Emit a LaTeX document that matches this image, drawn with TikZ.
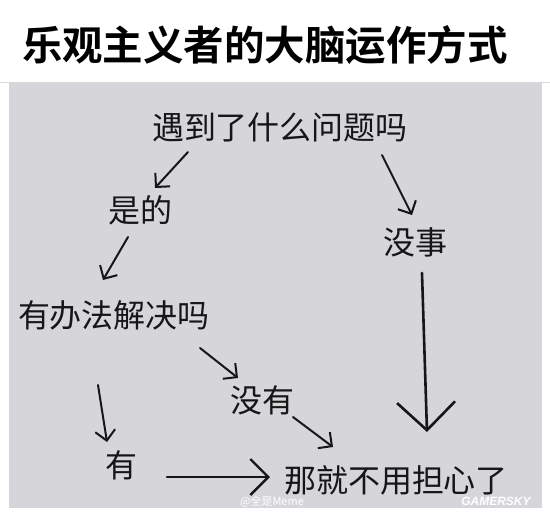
\documentclass[tikz,border=0pt]{standalone}
\usepackage{fontspec}
\newfontfamily\cjk{Noto Sans CJK SC}
\newfontfamily\cjkb{Noto Sans CJK SC Bold}
\newfontfamily\gsfont{Liberation Sans}
\usetikzlibrary{arrows.meta}
\definecolor{panel}{RGB}{214,214,218}
\definecolor{ink}{RGB}{22,22,22}
\tikzset{
  lbl/.style={font=\cjk\fontsize{32}{32}\selectfont, text=ink, inner sep=0pt, anchor=center},
  arr/.style={draw=ink, line width=2pt, line cap=round, -{Straight Barb[length=10pt,width=20pt,line width=2pt]}},
  bigarr/.style={draw=ink, line width=2.6pt, line cap=round, -{Straight Barb[length=28pt,width=58pt,line width=2.6pt]}},
  midarr/.style={draw=ink, line width=2.4pt, line cap=round, -{Straight Barb[length=18pt,width=36pt,line width=2.4pt]}},
  wm/.style={font=\cjk\fontsize{11}{11}\selectfont, text=white, inner sep=0pt}
}
\begin{document}
\begin{tikzpicture}[x=1pt,y=-1pt]
\useasboundingbox (0,0) rectangle (550,514);
\fill[white] (0,0) rectangle (550,514);
\fill[panel] (9,83) rectangle (542,508);
\draw[gray!30, line width=0.6pt] (0,82.5) -- (550,82.5);
\node[font=\cjkb\fontsize{40.5}{40.5}\selectfont, text=black, inner sep=0pt] (title) at (265,45) {乐观主义者的大脑运作方式};
\node[lbl] (q) at (280,127) {遇到了什么问题吗};
\node[lbl] (yes) at (140,210) {是的};
\node[lbl] (ok) at (415,242) {没事};
\node[lbl] (solve) at (114,315) {有办法解决吗};
\node[lbl] (no) at (262,400) {没有};
\node[lbl] (have) at (121,465) {有};
\node[lbl] (end) at (396,480) {那就不用担心了};
\node[wm] (wb) at (272,501.5) {@全是Meme};
\node[font=\gsfont\bfseries\itshape\fontsize{12}{12}\selectfont, text=white, inner sep=0pt] (gs) at (496,501.5) {GAMERSKY};
\coordinate (a1s) at (188,152); \coordinate (a1e) at (155,188);
\coordinate (a2s) at (128,237); \coordinate (a2e) at (103,280);
\coordinate (a3s) at (382,155); \coordinate (a3e) at (412,215);
\coordinate (a4s) at (422,273); \coordinate (a4e) at (427,432);
\coordinate (a5s) at (200,348); \coordinate (a5e) at (238,378);
\coordinate (a6s) at (293,417); \coordinate (a6e) at (333,447);
\coordinate (a7s) at (98,385);  \coordinate (a7e) at (107,442);
\coordinate (a8s) at (167,477); \coordinate (a8e) at (270,477);
\draw[arr] (a1s) -- (a1e);
\draw[arr] (a2s) -- (a2e);
\draw[arr] (a3s) -- (a3e);
\draw[bigarr] (a4s) -- (a4e);
\draw[arr] (a5s) -- (a5e);
\draw[arr] (a6s) -- (a6e);
\draw[arr] (a7s) -- (a7e);
\draw[midarr] (a8s) -- (a8e);
\end{tikzpicture}
\end{document}
